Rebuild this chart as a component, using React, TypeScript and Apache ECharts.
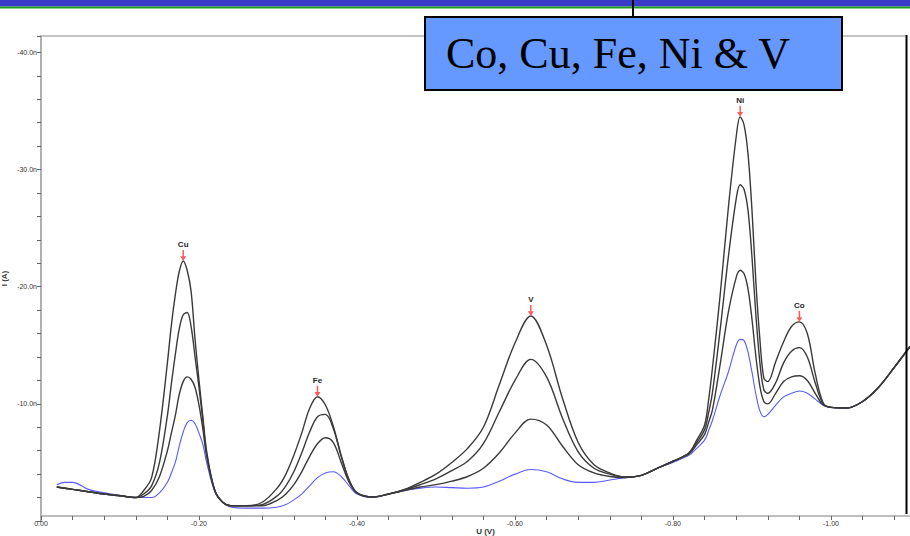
import React, { useEffect, useRef } from "react";
import * as echarts from "echarts";

// Potential U (V) and currents I (nA)
const potential = [
  -0.02, -0.03, -0.04, -0.06, -0.08, -0.10, -0.12, -0.13, -0.14, -0.15,
  -0.16, -0.165, -0.17, -0.175, -0.18, -0.185, -0.19, -0.195, -0.20, -0.205,
  -0.21, -0.22, -0.23, -0.24, -0.26, -0.28, -0.30, -0.31, -0.32, -0.33,
  -0.34, -0.35, -0.36, -0.37, -0.38, -0.39, -0.40, -0.42, -0.44, -0.46,
  -0.48, -0.50, -0.52, -0.54, -0.56, -0.58, -0.60, -0.62, -0.64, -0.66,
  -0.68, -0.70, -0.72, -0.74, -0.76, -0.78, -0.80, -0.82, -0.83, -0.84,
  -0.845, -0.85, -0.86, -0.87, -0.88, -0.885, -0.89, -0.895, -0.90, -0.905,
  -0.91, -0.915, -0.92, -0.93, -0.94, -0.95, -0.96, -0.97, -0.98, -0.99,
  -1.00, -1.02, -1.04, -1.06, -1.08, -1.10,
];

const currentStd3 = [
  -2.9, -2.8, -2.7, -2.5, -2.3, -2.15, -2.0, -2.6, -3.7, -7.7,
  -13.5, -16.7, -19.3, -21.3, -22.2, -21.4, -19.6, -15.5, -12.0, -8.8,
  -5.8, -2.6, -1.6, -1.3, -1.3, -1.6, -2.9, -4.0, -5.6, -7.5,
  -9.6, -10.6, -9.9, -8.1, -5.6, -3.5, -2.4, -2.05, -2.3, -2.7,
  -3.3, -4.0, -5.0, -6.2, -8.0, -11.6, -15.2, -17.5, -15.0, -10.5,
  -6.7, -4.8, -4.1, -3.75, -3.9, -4.5, -5.1, -5.8, -6.9, -8.2,
  -10.3, -13.1, -19.5, -26.7, -32.8, -34.5, -33.8, -31.3, -26.5, -20.3,
  -15.5, -12.2, -11.9, -13.6, -15.3, -16.6, -17.0, -16.0, -12.6, -10.1,
  -9.7, -9.65, -10.2, -11.4, -13.1, -14.9,
];

const currentStd2 = [
  -2.9, -2.8, -2.7, -2.5, -2.3, -2.15, -2.0, -2.3, -3.0, -5.0,
  -9.0, -11.7, -14.2, -16.4, -17.6, -17.8, -16.6, -14.0, -11.4, -8.5,
  -5.6, -2.6, -1.6, -1.3, -1.3, -1.4, -2.2, -3.0, -4.2, -5.8,
  -7.6, -8.9, -9.1, -7.9, -5.5, -3.5, -2.4, -2.05, -2.3, -2.65,
  -3.1, -3.6, -4.3, -5.1, -6.6, -9.3, -12.0, -13.8, -12.3, -8.8,
  -5.9, -4.5, -4.0, -3.75, -3.9, -4.5, -5.1, -5.8, -6.7, -7.8,
  -9.2, -11.0, -16.5, -22.5, -27.5, -28.7, -28.3, -26.5, -22.5, -17.5,
  -13.5, -11.2, -10.9, -11.8, -13.5, -14.5, -14.8, -14.0, -11.8, -10.0,
  -9.7, -9.65, -10.2, -11.4, -13.1, -14.9,
];

const currentStd1 = [
  -2.9, -2.8, -2.7, -2.5, -2.3, -2.15, -2.0, -2.1, -2.6, -3.8,
  -6.0, -7.5, -9.0, -10.8, -11.9, -12.3, -12.1, -11.4, -9.9, -7.8,
  -5.4, -2.6, -1.6, -1.3, -1.3, -1.3, -1.8, -2.3, -3.1, -4.2,
  -5.5, -6.6, -7.1, -6.7, -5.0, -3.3, -2.4, -2.05, -2.3, -2.6,
  -2.9, -3.1, -3.4, -3.8, -4.5, -5.8, -7.5, -8.7, -8.2, -6.4,
  -4.8, -4.1, -3.8, -3.7, -3.9, -4.5, -5.1, -5.7, -6.5, -7.4,
  -8.4, -9.5, -13.5, -17.8, -20.8, -21.4, -21.1, -19.8, -17.2, -14.0,
  -11.5, -10.2, -10.0, -10.9, -11.9, -12.3, -12.4, -12.0, -10.9, -9.9,
  -9.7, -9.65, -10.2, -11.4, -13.1, -14.9,
];

const currentSample = [
  -3.1, -3.3, -3.3, -2.7, -2.4, -2.2, -2.0, -2.0, -2.0, -2.4,
  -3.3, -4.1, -5.0, -6.4, -7.6, -8.4, -8.6, -8.3, -7.5, -6.5,
  -4.9, -2.5, -1.6, -1.2, -1.1, -1.1, -1.2, -1.4, -1.8, -2.3,
  -3.0, -3.7, -4.1, -4.2, -3.8, -3.0, -2.3, -2.0, -2.3, -2.6,
  -2.8, -2.9, -2.85, -2.8, -2.9, -3.4, -4.0, -4.4, -4.2, -3.6,
  -3.3, -3.3, -3.5, -3.7, -3.9, -4.5, -5.0, -5.6, -6.2, -6.9,
  -7.7, -8.6, -10.8, -12.7, -15.0, -15.5, -15.4, -14.4, -12.7, -10.8,
  -9.4, -8.9, -9.1, -9.9, -10.6, -10.9, -11.1, -10.9, -10.4, -9.9,
  -9.7, -9.65, -10.2, -11.4, -13.1, -14.9,
];

const peakLabels = ["Cu", "Fe", "V", "Ni", "Co"];
const peakPotentials = [-0.18, -0.35, -0.62, -0.885, -0.96];

const chartTitle = "CuNiV";
const boxText = "Co, Cu, Fe, Ni & V";

const FONT = "Liberation Sans, Arial, sans-serif";

function toData(cur: number[]) {
  return potential.map((u, i) => [-u, -cur[i]]);
}

export default function App() {
  const ref = useRef<HTMLDivElement>(null);

  useEffect(() => {
    if (!ref.current) return;
    const chart = echarts.init(ref.current, undefined, { renderer: "svg" });

    const markData = peakPotentials.map((u, i) => {
      const idx = potential.indexOf(u);
      return { name: peakLabels[i], coord: [-u, -currentStd3[idx]] };
    });

    const blackLine = { color: "#3a3a3a", width: 1.4 };

    chart.setOption({
      animation: false,
      title: {
        text: chartTitle,
        left: 452,
        top: 9,
        textStyle: { fontSize: 8, fontWeight: "normal", color: "#333", fontFamily: FONT },
      },
      grid: {
        left: 41,
        right: 0,
        top: 36,
        bottom: 15,
        containLabel: false,
        outerBoundsMode: "none",
      },
      xAxis: {
        type: "value",
        min: 0,
        max: 1.1,
        interval: 0.04,
        offset: -5,
        name: "U (V)",
        nameLocation: "middle",
        nameGap: 11,
        nameMoveOverlap: false,
        nameTextStyle: { fontSize: 8, fontWeight: "bold", color: "#333", fontFamily: FONT, padding: [0, 0, 0, 20] },
        axisLine: { lineStyle: { color: "#a8a8a8", width: 1.5 } },
        axisTick: { show: true, length: 4, lineStyle: { color: "#666", width: 1 } },
        splitLine: { show: false },
        axisLabel: {
          fontSize: 7,
          color: "#333",
          margin: 4,
          fontFamily: FONT,
          formatter: (v: number) => {
            const k = v / 0.2;
            if (Math.abs(k - Math.round(k)) > 1e-6) return "";
            return v === 0 ? "0.00" : "-" + v.toFixed(2);
          },
        },
      },
      yAxis: {
        type: "value",
        min: 0,
        max: 41.4,
        interval: 2,
        name: "I (A)",
        nameLocation: "middle",
        nameGap: 33,
        nameMoveOverlap: false,
        nameTextStyle: { fontSize: 8, fontWeight: "bold", color: "#333", fontFamily: FONT },
        axisLine: { show: true, lineStyle: { color: "#a8a8a8", width: 1.8 } },
        axisTick: { show: true, length: 4, lineStyle: { color: "#666", width: 1 } },
        splitLine: { show: false },
        axisLabel: {
          fontSize: 7,
          color: "#333",
          margin: 4,
          fontFamily: FONT,
          formatter: (v: number) =>
            v > 0 && Math.abs(v % 10) < 1e-6 ? "-" + v.toFixed(1) + "n" : "",
        },
      },
      series: [
        {
          type: "line",
          data: toData(currentSample),
          showSymbol: false,
          smooth: 0.35,
          lineStyle: { color: "#5a5aff", width: 1.1 },
          z: 2,
        },
        {
          type: "line",
          data: toData(currentStd1),
          showSymbol: false,
          smooth: 0.35,
          lineStyle: blackLine,
          z: 3,
        },
        {
          type: "line",
          data: toData(currentStd2),
          showSymbol: false,
          smooth: 0.35,
          lineStyle: blackLine,
          z: 3,
        },
        {
          type: "line",
          data: toData(currentStd3),
          showSymbol: false,
          smooth: 0.35,
          lineStyle: blackLine,
          z: 3,
          markPoint: {
            symbol: "path://M3,0 L5,0 L5,8 L8,8 L4,14 L0,8 L3,8 Z",
            symbolSize: [6, 11],
            symbolOffset: [0, "-50%"],
            itemStyle: { color: "#ff5a5a" },
            label: {
              show: true,
              position: "top",
              distance: 1,
              formatter: "{b}",
              fontSize: 8,
              fontWeight: "bold",
              color: "#222",
              fontFamily: FONT,
            },
            data: markData,
          },
        },
      ],
      graphic: [
        { type: "rect", left: 0, top: 0, shape: { width: 910, height: 6.5 }, style: { fill: "#3a3ac8" }, z: 100 },
        { type: "rect", left: 0, top: 6.5, shape: { width: 910, height: 2 }, style: { fill: "#1e9a1e" }, z: 100 },
        { type: "line", shape: { x1: 41, y1: 36, x2: 905, y2: 36 }, style: { stroke: "#b0b0b0", lineWidth: 1.5 }, z: 90 },
        { type: "line", shape: { x1: 906.5, y1: 35, x2: 906.5, y2: 514 }, style: { stroke: "#000", lineWidth: 2 }, z: 100 },
        { type: "line", shape: { x1: 633, y1: 0, x2: 633, y2: 17 }, style: { stroke: "#000", lineWidth: 2 }, z: 100 },
        {
          type: "rect",
          shape: { x: 425, y: 17, width: 417, height: 73 },
          style: { fill: "#6699ff", stroke: "#000", lineWidth: 2 },
          z: 100,
        },
        {
          type: "text",
          x: 446,
          y: 53,
          style: {
            text: boxText,
            fill: "#000",
            fontSize: 44,
            fontFamily: "Liberation Serif, Times New Roman, serif",
            verticalAlign: "middle",
            align: "left",
          },
          z: 101,
        },
      ],
    });

    return () => chart.dispose();
  }, []);

  return (
    <div
      ref={ref}
      style={{ position: "fixed", left: 0, top: 0, width: 910, height: 536, background: "#fff" }}
    />
  );
}
